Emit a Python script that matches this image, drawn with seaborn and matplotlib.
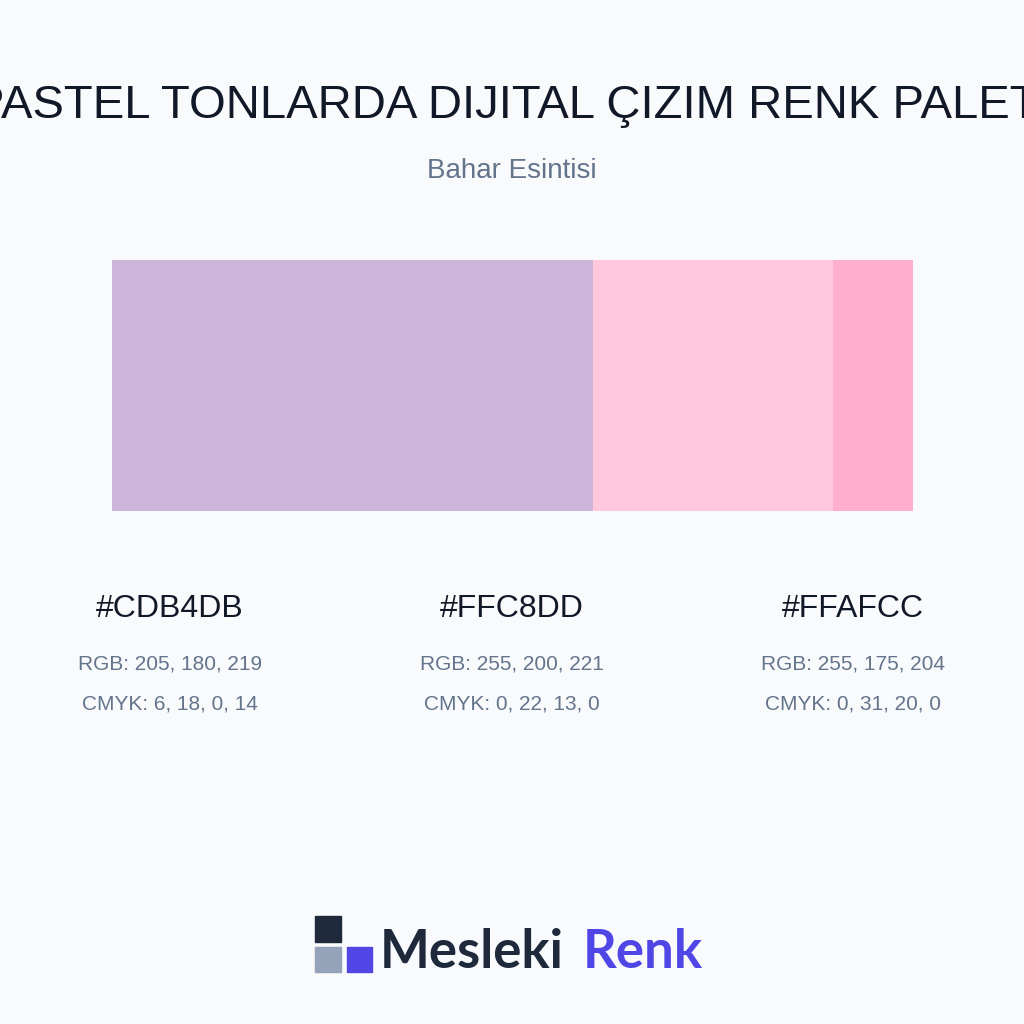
import matplotlib
matplotlib.use("Agg")
import matplotlib.pyplot as plt
import seaborn as sns
import pandas as pd
from matplotlib.patches import Rectangle

hexes = ["#CDB4DB", "#FFC8DD", "#FFAFCC"]
shares = [60, 30, 10]
rgb_labels = ["RGB: 205, 180, 219", "RGB: 255, 200, 221", "RGB: 255, 175, 204"]
cmyk_labels = ["CMYK: 6, 18, 0, 14", "CMYK: 0, 22, 13, 0", "CMYK: 0, 31, 20, 0"]
title = "PASTEL TONLARDA DIJITAL ÇIZIM RENK PALETI"
subtitle = "Bahar Esintisi"

sns.set_style("white")
plt.rcParams['font.family'] = ['Liberation Sans', 'DejaVu Sans']
bg = "#F8FAFC"
fig = plt.figure(figsize=(10.24, 10.24), dpi=100, facecolor=bg)

ax = fig.add_axes([112/1024, 1-511/1024, 801/1024, 251/1024])
left = 0
for h, s in zip(hexes, shares):
    sns.barplot(x=[s], y=["p"], left=left, color=h, width=1.0, ax=ax, saturation=1, edgecolor="none", linewidth=0)
    left += s
ax.set_xlim(0, sum(shares))
ax.set_ylim(0.5, -0.5)
ax.axis("off")

fig.text(0.5, 1-106/1024, title, ha="center", va="center", fontsize=34, color="#111827")
fig.text(0.5, 1-171/1024, subtitle, ha="center", va="center", fontsize=20, color="#64748B")

centers = [170, 512, 853]
for c, h, r, k in zip(centers, hexes, rgb_labels, cmyk_labels):
    fig.text(c/1024, 1-609/1024, h, ha="center", va="center", fontsize=23, color="#111827")
    fig.text(c/1024, 1-664/1024, r, ha="center", va="center", fontsize=15, color="#64748B")
    fig.text(c/1024, 1-704/1024, k, ha="center", va="center", fontsize=15, color="#64748B")

# logo
for (x0, y0, w, hh, col) in [(315, 916, 26, 26, "#1E293B"), (315, 947, 26, 25, "#94A3B8"), (347, 947, 25, 25, "#4F46E5")]:
    fig.patches.append(Rectangle((x0/1024, 1-(y0+hh)/1024), w/1024, hh/1024, transform=fig.transFigure, color=col))
fig.text(380/1024, 1-953/1024, "Mesleki", ha="left", va="center", fontsize=38, fontweight="bold", color="#1E293B", family=["Lato", "DejaVu Sans"])
fig.text(583/1024, 1-953/1024, "Renk", ha="left", va="center", fontsize=38, fontweight="bold", color="#4F46E5", family=["Lato", "DejaVu Sans"])

fig.savefig("out.png", dpi=100, facecolor=bg)
